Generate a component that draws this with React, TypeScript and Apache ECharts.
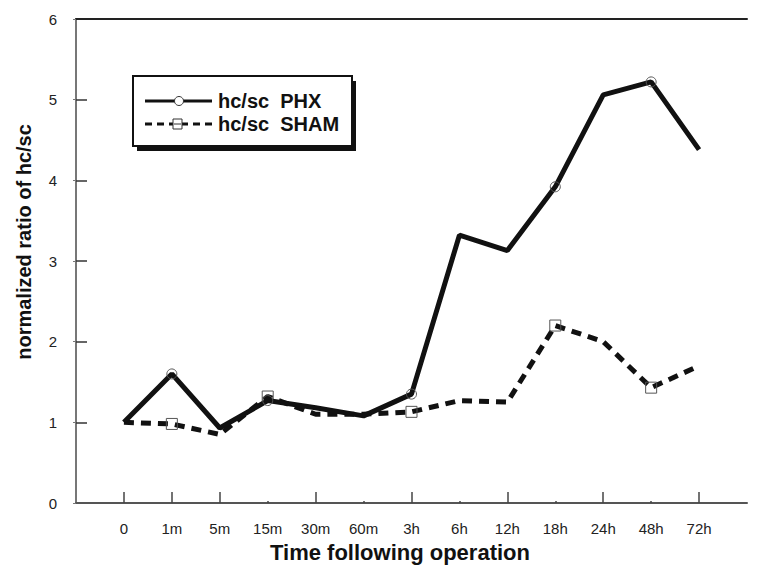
import React, { useEffect, useRef } from "react";
import * as echarts from "echarts";

const categories = ["0", "1m", "5m", "15m", "30m", "60m", "3h", "6h", "12h", "18h", "24h", "48h", "72h"];
const phxValues = [1.0, 1.6, 0.93, 1.27, 1.18, 1.08, 1.35, 3.32, 3.13, 3.92, 5.06, 5.22, 4.38];
const shamValues = [1.0, 0.98, 0.85, 1.32, 1.1, 1.1, 1.13, 1.27, 1.25, 2.2, 2.0, 1.43, 1.7];
const markerIndices = [1, 3, 6, 9, 11];
const majorTickPositions = [1, 2, 3, 5, 7, 9, 11, 13];
const minorTickPositions = [4, 6, 8, 10, 12];
const yTicks = [0, 1, 2, 3, 4, 5, 6];
const seriesNames = ["hc/sc  PHX", "hc/sc  SHAM"];

const FONT = "'Liberation Sans', Arial, sans-serif";

function buildData(values: number[], symbol: string) {
  return values.map((v, i) => {
    const item: any = { value: [i + 1, v] };
    item.symbol = markerIndices.includes(i) ? symbol : "none";
    return item;
  });
}

export default function App() {
  const ref = useRef<HTMLDivElement>(null);
  useEffect(() => {
    if (!ref.current) return;
    const chart = echarts.init(ref.current, null, { renderer: "svg" });
    chart.setOption({
      animation: false,
      backgroundColor: "#ffffff",
      grid: { left: 76, right: 15, top: 19, bottom: 77, containLabel: false },
      xAxis: [
        {
          type: "value",
          min: 0,
          max: 14,
          interval: 1,
          position: "bottom",
          axisLine: { show: true, lineStyle: { color: "#555", width: 2 } },
          axisTick: {
            show: true,
            inside: true,
            length: 11,
            customValues: majorTickPositions,
            lineStyle: { color: "#444", width: 1.5 },
          },
          axisLabel: {
            show: true,
            customValues: categories.map((_, i) => i + 1),
            formatter: (v: number) => categories[Math.round(v) - 1] ?? "",
            fontFamily: FONT,
            fontSize: 15,
            color: "#222",
            margin: 18,
          },
          splitLine: { show: false },
        },
        {
          type: "value",
          min: 0,
          max: 14,
          interval: 1,
          position: "bottom",
          axisLine: { show: false },
          axisTick: {
            show: true,
            inside: true,
            length: 2,
            customValues: minorTickPositions,
            lineStyle: { color: "#444", width: 1.5 },
          },
          axisLabel: { show: false },
          splitLine: { show: false },
        },
        {
          type: "value",
          min: 0,
          max: 14,
          position: "top",
          axisLine: { show: true, lineStyle: { color: "#222", width: 2 } },
          axisTick: { show: false },
          axisLabel: { show: false },
          splitLine: { show: false },
        },
      ],
      yAxis: [
        {
          type: "value",
          min: 0,
          max: 6,
          interval: 1,
          position: "left",
          axisLine: { show: false },
          axisTick: {
            show: true,
            inside: true,
            length: 11,
            customValues: yTicks.slice(1, -1),
            lineStyle: { color: "#333", width: 1.5 },
          },
          axisLabel: {
            show: true,
            fontFamily: FONT,
            fontSize: 15,
            color: "#222",
            margin: 19,
          },
          splitLine: { show: false },
        },
        {
          type: "value",
          min: 0,
          max: 6,
          interval: 1,
          position: "right",
          axisLine: { show: true, lineStyle: { color: "#777", width: 2 } },
          axisTick: {
            show: true,
            inside: true,
            length: 3,
            lineStyle: { color: "#777", width: 1 },
          },
          axisLabel: { show: false },
          splitLine: { show: false },
        },
      ],
      legend: { show: false },
      graphic: [
        {
          type: "group",
          z: 100,
          children: [
            {
              type: "rect",
              z: 1,
              shape: { x: 137, y: 81, width: 219, height: 70 },
              style: { fill: "#111" },
            },
            {
              type: "rect",
              z: 2,
              shape: { x: 133, y: 76, width: 219, height: 70 },
              style: { fill: "#fff", stroke: "#111", lineWidth: 2 },
            },
            {
              type: "line",
              z: 3,
              shape: { x1: 145, y1: 101, x2: 212, y2: 101 },
              style: { stroke: "#111", lineWidth: 3 },
            },
            {
              type: "circle",
              z: 4,
              shape: { cx: 179, cy: 101, r: 4.5 },
              style: { fill: "#fff", stroke: "#333", lineWidth: 1 },
            },
            {
              type: "line",
              z: 3,
              shape: { x1: 145, y1: 124, x2: 212, y2: 124 },
              style: { stroke: "#111", lineWidth: 3, lineDash: [7, 5] },
            },
            {
              type: "rect",
              z: 4,
              shape: { x: 173, y: 119, width: 9, height: 10 },
              style: { fill: "#fff", stroke: "#333", lineWidth: 1 },
            },
            {
              type: "line",
              z: 5,
              shape: { x1: 174, y1: 124, x2: 181, y2: 124 },
              style: { stroke: "#333", lineWidth: 1 },
            },
            {
              type: "text",
              z: 5,
              x: 218,
              y: 101,
              style: {
                text: seriesNames[0],
                fontFamily: FONT,
                fontSize: 20,
                fontWeight: "bold",
                fill: "#111",
                align: "left",
                verticalAlign: "middle",
              },
            },
            {
              type: "text",
              z: 5,
              x: 218,
              y: 124,
              style: {
                text: seriesNames[1],
                fontFamily: FONT,
                fontSize: 20,
                fontWeight: "bold",
                fill: "#111",
                align: "left",
                verticalAlign: "middle",
              },
            },
          ],
        },
        {
          type: "text",
          x: 24,
          y: 242,
          rotation: Math.PI / 2,
          style: {
            text: "normalized ratio of hc/sc",
            fontFamily: FONT,
            fontSize: 20,
            fontWeight: "bold",
            fill: "#111",
            align: "center",
            verticalAlign: "middle",
          },
        },
        {
          type: "text",
          x: 400,
          y: 552,
          style: {
            text: "Time following operation",
            fontFamily: FONT,
            fontSize: 22,
            fontWeight: "bold",
            fill: "#111",
            align: "center",
            verticalAlign: "middle",
          },
        },
      ],
      series: [
        {
          name: seriesNames[0],
          type: "line",
          xAxisIndex: 0,
          yAxisIndex: 0,
          data: buildData(phxValues, "circle"),
          symbolSize: 10,
          showAllSymbol: true,
          lineStyle: { color: "#111", width: 5, type: "solid" },
          itemStyle: { color: "rgba(255,255,255,0)", borderColor: "#555", borderWidth: 1 },
          z: 3,
        },
        {
          name: seriesNames[1],
          type: "line",
          xAxisIndex: 0,
          yAxisIndex: 0,
          data: buildData(shamValues, "rect"),
          symbolSize: 11,
          showAllSymbol: true,
          lineStyle: { color: "#111", width: 5, type: [10, 7] },
          itemStyle: { color: "rgba(255,255,255,0)", borderColor: "#555", borderWidth: 1 },
          z: 2,
        },
      ],
    });
    return () => chart.dispose();
  }, []);
  return (
    <div
      ref={ref}
      style={{ position: "fixed", left: 0, top: 0, width: 762, height: 580 }}
    />
  );
}
